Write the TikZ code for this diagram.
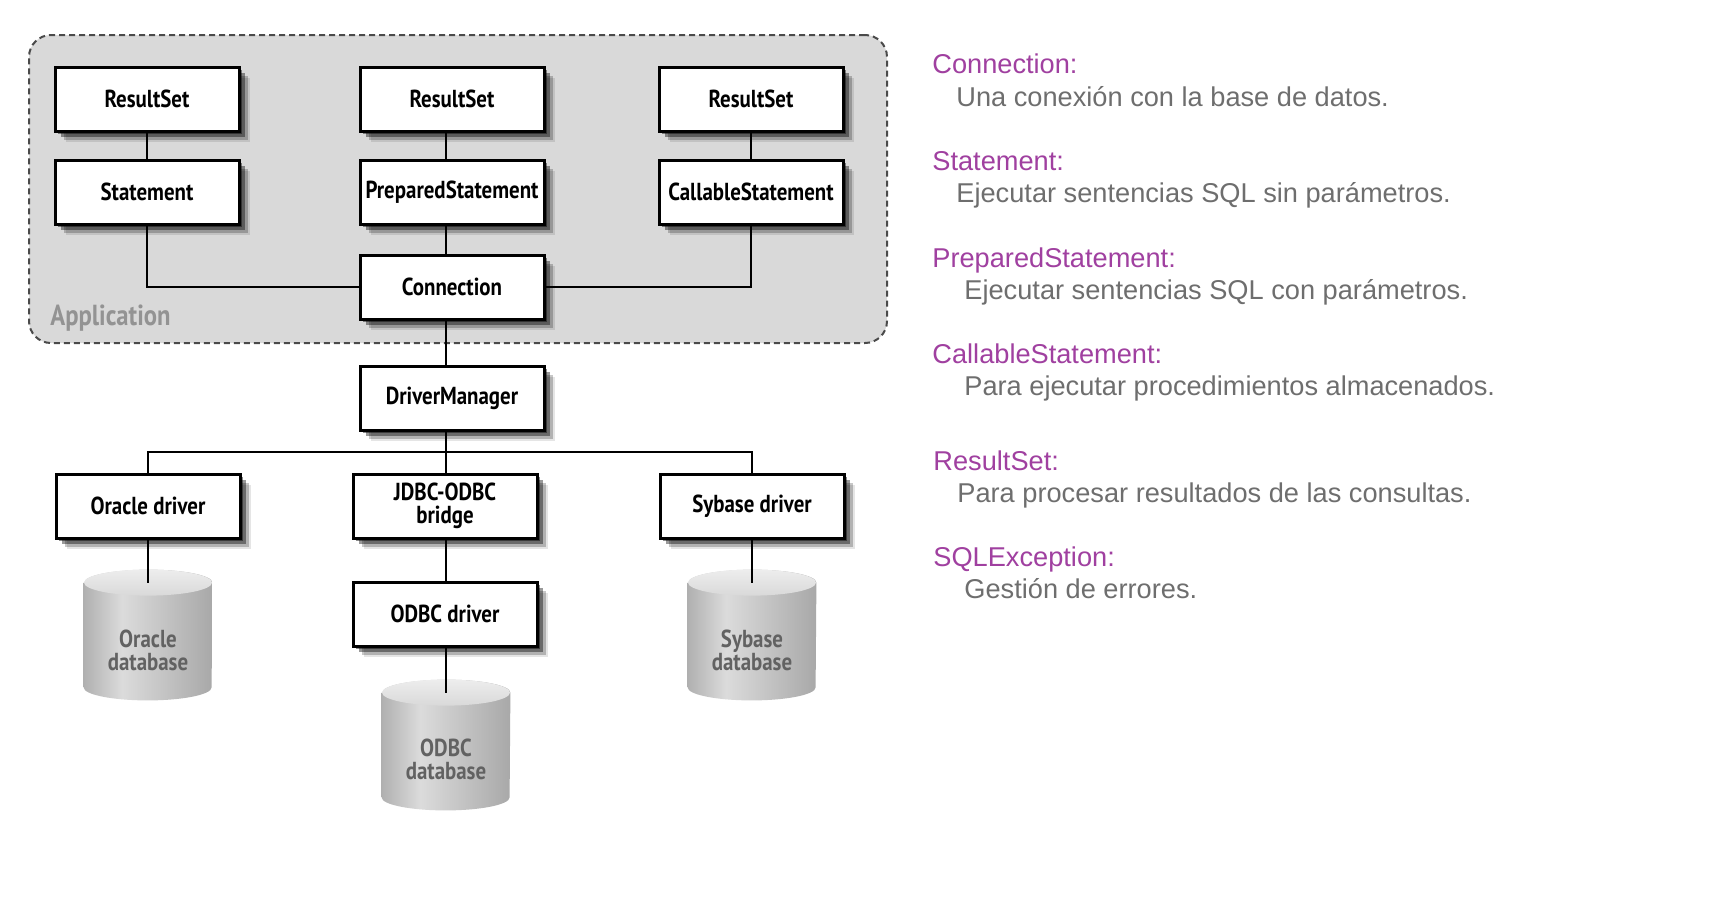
\documentclass[tikz,border=0pt]{standalone}
\usepackage{fontspec}
\setmainfont{Liberation Sans}
\newfontfamily\boxfont[FakeStretch=0.85]{PT Sans Bold}
\usetikzlibrary{shadows,calc}
\definecolor{appfill}{HTML}{D9D9D9}
\definecolor{appedge}{HTML}{4A4A4A}
\definecolor{apptext}{HTML}{939393}
\definecolor{dbtext}{HTML}{626262}
\definecolor{termcol}{HTML}{A040A0}
\definecolor{desccol}{HTML}{6E6E6E}
\pgfdeclarehorizontalshading{dbbody}{100bp}{color(0bp)=(gray!62); color(25bp)=(gray!62); color(40bp)=(gray!28); color(75bp)=(gray!68); color(100bp)=(gray!68)}
\newcommand{\dbcyl}[1]{%
  \shade[shading=dbbody] ([yshift=-6.5pt]#1.north west) -- ([yshift=6.5pt]#1.south west)
    arc[start angle=180,end angle=360,x radius=32pt,y radius=6.5pt]
    -- ([yshift=-6.5pt]#1.north east)
    arc[start angle=0,end angle=180,x radius=32pt,y radius=6.5pt] -- cycle;
  \shade[top color=gray!14, bottom color=gray!30] ([yshift=-6.5pt]#1.north) ellipse [x radius=32pt, y radius=6.5pt];}
\begin{document}
\begin{tikzpicture}[x=0.5pt,y=-0.5pt,
  box/.style={draw=black, line width=1.5pt, fill=white, minimum width=92pt, minimum height=32pt,
    inner sep=0pt, font=\boxfont\fontsize{12.3}{11.5}\selectfont, align=center,
    drop shadow={shadow xshift=1.5pt, shadow yshift=-1.5pt, fill=black, opacity=0.45},
    drop shadow={shadow xshift=3pt, shadow yshift=-3pt, fill=black, opacity=0.4},
    drop shadow={shadow xshift=4.5pt, shadow yshift=-4.5pt, fill=black, opacity=0.22},
    drop shadow={shadow xshift=5.5pt, shadow yshift=-5.5pt, fill=black, opacity=0.1}},
  appbox/.style={draw=appedge, line width=1pt, dash pattern=on 3pt off 2pt, fill=appfill,
    rounded corners=11pt, minimum width=429pt, minimum height=154pt, inner sep=0pt},
  link/.style={line width=1.3pt, draw=black},
  dbhold/.style={minimum width=64pt, minimum height=65pt, inner sep=0pt},
  dblabel/.style={font=\boxfont\fontsize{12.3}{11.5}\selectfont, text=dbtext, align=center},
  term/.style={anchor=base west, text=termcol, font=\fontsize{13.6}{15}\selectfont, inner sep=0pt},
  desc/.style={anchor=base west, text=desccol, font=\fontsize{13.6}{15}\selectfont, inner sep=0pt}]
\fill[white] (0,0) rectangle (1732,900);
\useasboundingbox (0,0) rectangle (1732,900);

% application container
\node[appbox] (app) at (458,189) {};
\node[anchor=base west, text=apptext, font=\boxfont\fontsize{14.5}{15}\selectfont, inner sep=0pt] (applbl) at (50,325) {Application};

% boxes
\node[box] (rs1) at (147,99) {ResultSet};
\node[box] (st) at (147,192) {Statement};
\node[box] (rs2) at (452,99) {ResultSet};
\node[box] (ps) at (452,192) {PreparedStatement};
\node[box] (con) at (452,287) {Connection};
\node[box] (rs3) at (751,99) {ResultSet};
\node[box] (cs) at (751,192) {CallableStatement};
\node[box] (dm) at (452,398) {DriverManager};
\node[box] (od) at (148,506) {Oracle driver};
\node[box] (jb) at (445,506) {JDBC-ODBC\\bridge};
\node[box] (sd) at (752,506) {Sybase driver};
\node[box] (odd) at (445,614) {ODBC driver};

% databases
\node[dbhold] (odb) at (148,635) {};
\node[dbhold] (sdb) at (752,635) {};
\node[dbhold] (xdb) at (446,745) {};
\dbcyl{odb}
\dbcyl{sdb}
\dbcyl{xdb}
\node[dblabel] (odbl) at (148,650) {Oracle\\database};
\node[dblabel] (sdbl) at (752,650) {Sybase\\database};
\node[dblabel] (xdbl) at (446,759) {ODBC\\database};

% connectors
\coordinate (trunk) at (446,0);
\coordinate (bus) at (0,452);
\draw[link] (rs1) -- (st);
\draw[link] (rs3) -- (cs);
\draw[link] (st.south) |- (con.west);
\draw[link] (cs.south) |- (con.east);
\draw[link] (rs2.south -| trunk) -- (ps.north -| trunk);
\draw[link] (ps.south -| trunk) -- (con.north -| trunk);
\draw[link] (con.south -| trunk) -- (dm.north -| trunk);
\draw[link] (dm.south -| trunk) -- (jb.north -| trunk);
\draw[link] (od.north) -- (od.north |- bus) -- (sd.north |- bus) -- (sd.north);
\draw[link] (jb.south -| trunk) -- (odd.north -| trunk);
\draw[link] (od.south) -- ([yshift=-6.5pt]odb.north);
\draw[link] (sd.south) -- ([yshift=-6.5pt]sdb.north);
\draw[link] (odd.south -| trunk) -- ([yshift=-6.5pt]xdb.north);

% descriptions
\node[term] (t1) at (932,73) {Connection:};
\node[desc] (d1) at (956,106) {Una conexión con la base de datos.};
\node[term] (t2) at (932,170) {Statement:};
\node[desc] (d2) at (956,202) {Ejecutar sentencias SQL sin parámetros.};
\node[term] (t3) at (932,267) {PreparedStatement:};
\node[desc] (d3) at (964,299) {Ejecutar sentencias SQL con parámetros.};
\node[term] (t4) at (932,363) {CallableStatement:};
\node[desc] (d4) at (964,395) {Para ejecutar procedimientos almacenados.};
\node[term] (t5) at (933,470) {ResultSet:};
\node[desc] (d5) at (957,502) {Para procesar resultados de las consultas.};
\node[term] (t6) at (933,566) {SQLException:};
\node[desc] (d6) at (964,598) {Gestión de errores.};
\end{tikzpicture}
\end{document}
